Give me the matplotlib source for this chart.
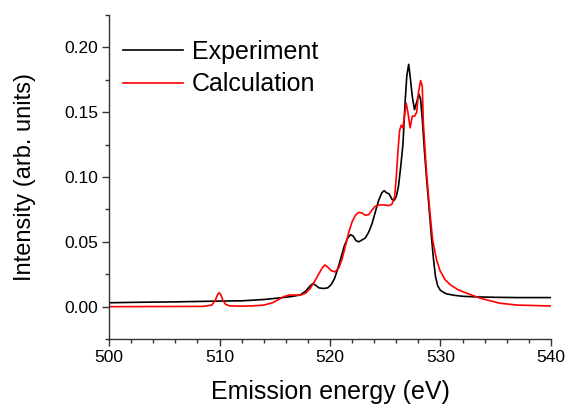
import numpy as np
from matplotlib import pyplot as plt
from matplotlib.ticker import MultipleLocator

plt.rcParams['font.family'] = ['Liberation Sans', 'DejaVu Sans']

# experiment (black)
exp_e = [500.0, 502.0, 504.0, 506.0, 508.0, 510.0, 512.0, 514.0, 515.5, 516.5,
         517.3, 517.8, 518.2, 518.45, 518.7, 519.0, 519.4, 519.8, 520.1, 520.4,
         520.7, 521.0, 521.3, 521.6, 521.85, 522.1, 522.35, 522.6, 522.9, 523.2,
         523.5, 523.8, 524.1, 524.4, 524.7, 524.9, 525.1, 525.35, 525.6, 525.8,
         526.0, 526.2, 526.4, 526.6, 526.8, 526.95, 527.12, 527.25, 527.45, 527.65,
         527.85, 528.05, 528.2, 528.35, 528.55, 528.75, 528.95, 529.15, 529.35, 529.55,
         529.75, 530.0, 530.5, 531.2, 532.0, 533.0, 535.0, 537.0, 540.0]
exp_i = [0.0030, 0.0033, 0.0035, 0.0037, 0.0040, 0.0043, 0.0045, 0.0055, 0.0068, 0.0078,
         0.0090, 0.0120, 0.0160, 0.0178, 0.0165, 0.0145, 0.0140, 0.0145, 0.0170, 0.0215,
         0.0290, 0.0380, 0.0470, 0.0530, 0.0555, 0.0545, 0.0510, 0.0500, 0.0515, 0.0530,
         0.0575, 0.0640, 0.0730, 0.0820, 0.0880, 0.0895, 0.0880, 0.0870, 0.0830, 0.0820,
         0.0850, 0.0930, 0.1080, 0.1250, 0.1580, 0.1780, 0.1870, 0.1780, 0.1620, 0.1520,
         0.1580, 0.1640, 0.1600, 0.1450, 0.1200, 0.0980, 0.0780, 0.0570, 0.0380, 0.0230,
         0.0160, 0.0125, 0.0100, 0.0088, 0.0080, 0.0076, 0.0072, 0.0070, 0.0070]

# calculation (red)
calc_e = [500.0, 505.0, 508.5, 509.3, 509.6, 509.8, 509.95, 510.1, 510.3, 510.55,
          510.9, 512.0, 513.0, 514.0, 514.8, 515.4, 515.9, 516.3, 516.8, 517.3,
          517.8, 518.2, 518.6, 519.0, 519.3, 519.55, 519.8, 520.1, 520.45, 520.8,
          521.1, 521.4, 521.7, 522.0, 522.3, 522.6, 522.9, 523.2, 523.5, 523.8,
          524.1, 524.5, 524.9, 525.3, 525.6, 525.85, 526.0, 526.15, 526.3, 526.45,
          526.6, 526.75, 526.9, 527.05, 527.25, 527.45, 527.65, 527.85, 528.0, 528.2,
          528.35, 528.45, 528.74, 529.05, 529.29, 529.65, 529.95, 530.4, 530.9, 531.6,
          532.4, 533.6, 535.4, 537.0, 540.0]
calc_i = [0.0000, 0.0001, 0.0002, 0.0012, 0.0045, 0.0088, 0.0108, 0.0095, 0.0050, 0.0018,
          0.0006, 0.0004, 0.0006, 0.0012, 0.0030, 0.0058, 0.0080, 0.0089, 0.0090, 0.0088,
          0.0105, 0.0140, 0.0195, 0.0255, 0.0300, 0.0322, 0.0305, 0.0278, 0.0268, 0.0300,
          0.0370, 0.0470, 0.0575, 0.0655, 0.0705, 0.0728, 0.0722, 0.0705, 0.0710, 0.0745,
          0.0775, 0.0785, 0.0785, 0.0780, 0.0790, 0.0850, 0.1000, 0.1200, 0.1360, 0.1400,
          0.1380, 0.1480, 0.1570, 0.1500, 0.1380, 0.1470, 0.1470, 0.1500, 0.1650, 0.1745,
          0.1700, 0.1416, 0.1030, 0.0721, 0.0515, 0.0360, 0.0280, 0.0210, 0.0168, 0.0130,
          0.0103, 0.0065, 0.0026, 0.0012, 0.0005]

fig = plt.figure(figsize=(5.68, 4.08), dpi=100)
ax = fig.add_axes([0.192, 0.169, 0.778, 0.794])

ax.plot(exp_e, exp_i, color='black', lw=1.2, label='Experiment')
ax.plot(calc_e, calc_i, color='red', lw=1.2, label='Calculation')

ax.set_xlim(500, 540)
ax.set_ylim(-0.025, 0.225)
ax.xaxis.set_major_locator(MultipleLocator(10))
ax.xaxis.set_minor_locator(MultipleLocator(2))
ax.yaxis.set_minor_locator(MultipleLocator(0.025))
ax.set_yticks([0.0, 0.05, 0.10, 0.15, 0.20])
ax.set_yticklabels(['0.00', '0.05', '0.10', '0.15', '0.20'])

for s in ['top', 'right']:
    ax.spines[s].set_visible(False)
for s in ['left', 'bottom']:
    ax.spines[s].set_color('#333333')
    ax.spines[s].set_linewidth(1.0)

ax.tick_params(which='major', direction='out', length=5, width=1, color='#333333',
               labelsize=12.5, pad=3)
ax.tick_params(which='minor', direction='out', length=3, width=1, color='#333333')

ax.set_xlabel('Emission energy (eV)', fontsize=18, labelpad=11)
ax.set_ylabel('Intensity (arb. units)', fontsize=17, labelpad=20)

ax.legend(loc='upper left', bbox_to_anchor=(0.032, 0.924), frameon=False,
          fontsize=18, handlelength=2.4, handletextpad=0.35, labelspacing=0.35,
          borderpad=0, borderaxespad=0)

fig.savefig('out.png', dpi=100)
